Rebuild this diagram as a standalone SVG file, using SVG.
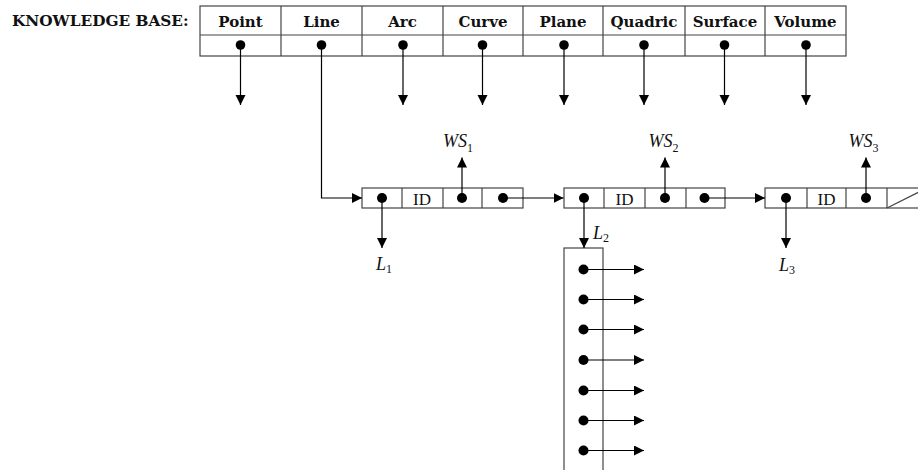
<svg xmlns="http://www.w3.org/2000/svg" width="918" height="470" viewBox="0 0 918 470">
<defs>
<marker id="ah" markerUnits="userSpaceOnUse" markerWidth="11" markerHeight="11" refX="10" refY="5" orient="auto">
<path d="M0,0 L10,5 L0,10 z" fill="#000"/>
</marker>
<style>
.cell{fill:#fff;stroke:#444;stroke-width:1.2}
.hdr{font-family:"DejaVu Serif","Liberation Serif",serif;font-weight:bold;font-size:15px;fill:#111;text-anchor:middle}
.kb{font-family:"DejaVu Serif","Liberation Serif",serif;font-weight:bold;font-size:15.3px;fill:#111}
.dot{fill:#000}
.conn{fill:none;stroke:#000;stroke-width:1.2;marker-end:url(#ah)}
.id{font-family:"Liberation Serif",serif;font-size:17px;fill:#111;text-anchor:middle}
.lab{font-family:"Liberation Serif",serif;font-style:italic;font-size:18px;fill:#111}
.sub{font-family:"Liberation Serif",serif;font-style:normal;font-size:12px;fill:#111}
</style>
</defs>
<rect width="918" height="470" fill="#fff"/>

<g id="knowledge-base">
<text class="kb" x="12" y="26">KNOWLEDGE BASE:</text>
<rect class="cell" x="200" y="6" width="646" height="50"/>
<line class="cell" x1="200" y1="35" x2="846" y2="35"/>
<line class="cell" x1="281" y1="6" x2="281" y2="56"/>
<line class="cell" x1="362" y1="6" x2="362" y2="56"/>
<line class="cell" x1="443" y1="6" x2="443" y2="56"/>
<line class="cell" x1="523" y1="6" x2="523" y2="56"/>
<line class="cell" x1="603" y1="6" x2="603" y2="56"/>
<line class="cell" x1="685" y1="6" x2="685" y2="56"/>
<line class="cell" x1="765" y1="6" x2="765" y2="56"/>
<text class="hdr" x="240.5" y="27">Point</text>
<text class="hdr" x="321.5" y="27">Line</text>
<text class="hdr" x="402.5" y="27">Arc</text>
<text class="hdr" x="483" y="27">Curve</text>
<text class="hdr" x="563" y="27">Plane</text>
<text class="hdr" x="644" y="27">Quadric</text>
<text class="hdr" x="725" y="27">Surface</text>
<text class="hdr" x="805.5" y="27">Volume</text>
<circle class="dot" cx="240.5" cy="45" r="4.8"/>
<circle class="dot" cx="321.5" cy="45" r="4.8"/>
<circle class="dot" cx="403" cy="45" r="4.8"/>
<circle class="dot" cx="482.5" cy="45" r="4.8"/>
<circle class="dot" cx="564" cy="45" r="4.8"/>
<circle class="dot" cx="644" cy="45" r="4.8"/>
<circle class="dot" cx="724.5" cy="45" r="4.8"/>
<circle class="dot" cx="806" cy="45" r="4.8"/>
</g>

<g id="node1">
<rect class="cell" x="362" y="188" width="161" height="20"/>
<line class="cell" x1="402" y1="188" x2="402" y2="208"/>
<line class="cell" x1="443" y1="188" x2="443" y2="208"/>
<line class="cell" x1="482" y1="188" x2="482" y2="208"/>
<text class="id" x="422" y="205">ID</text>
<circle class="dot" cx="382" cy="198" r="5"/>
<circle class="dot" cx="462" cy="198" r="5"/>
<circle class="dot" cx="503" cy="198" r="5"/>
</g>

<g id="node2">
<rect class="cell" x="564" y="188" width="161" height="20"/>
<line class="cell" x1="604" y1="188" x2="604" y2="208"/>
<line class="cell" x1="645" y1="188" x2="645" y2="208"/>
<line class="cell" x1="686" y1="188" x2="686" y2="208"/>
<text class="id" x="624.5" y="205">ID</text>
<circle class="dot" cx="584" cy="198" r="5"/>
<circle class="dot" cx="665" cy="198" r="5"/>
<circle class="dot" cx="704.5" cy="198" r="5"/>
</g>

<g id="node3">
<rect class="cell" x="765" y="188" width="162" height="20"/>
<line class="cell" x1="807" y1="188" x2="807" y2="208"/>
<line class="cell" x1="846" y1="188" x2="846" y2="208"/>
<line class="cell" x1="887" y1="188" x2="887" y2="208"/>
<line class="cell" x1="887" y1="208" x2="927" y2="188"/>
<text class="id" x="826.5" y="205">ID</text>
<circle class="dot" cx="786" cy="198" r="5"/>
<circle class="dot" cx="866" cy="198" r="5"/>
</g>

<g id="line-list">
<rect class="cell" x="564" y="248" width="39" height="240"/>
<circle class="dot" cx="583.5" cy="269.5" r="5"/>
<circle class="dot" cx="583.5" cy="299.5" r="5"/>
<circle class="dot" cx="583.5" cy="329.5" r="5"/>
<circle class="dot" cx="583.5" cy="360" r="5"/>
<circle class="dot" cx="583.5" cy="390.5" r="5"/>
<circle class="dot" cx="583.5" cy="420.5" r="5"/>
<circle class="dot" cx="583.5" cy="450.5" r="5"/>
</g>

<g id="labels">
<text class="lab" x="443" y="146.5">WS<tspan class="sub" dy="5">1</tspan></text>
<text class="lab" x="648.5" y="146.5">WS<tspan class="sub" dy="5">2</tspan></text>
<text class="lab" x="848.5" y="146.5">WS<tspan class="sub" dy="5">3</tspan></text>
<text class="lab" x="376" y="270">L<tspan class="sub" dy="3">1</tspan></text>
<text class="lab" x="593" y="239">L<tspan class="sub" dy="3">2</tspan></text>
<text class="lab" x="779" y="271">L<tspan class="sub" dy="3">3</tspan></text>
</g>

<g id="connectors">
<line class="conn" x1="240.5" y1="45" x2="240.5" y2="105"/>
<line class="conn" x1="403" y1="45" x2="403" y2="105"/>
<line class="conn" x1="482.5" y1="45" x2="482.5" y2="105"/>
<line class="conn" x1="564" y1="45" x2="564" y2="105"/>
<line class="conn" x1="644" y1="45" x2="644" y2="105"/>
<line class="conn" x1="724.5" y1="45" x2="724.5" y2="105"/>
<line class="conn" x1="806" y1="45" x2="806" y2="105"/>
<path class="conn" d="M321.5,45 V198 H362"/>
<line class="conn" x1="503" y1="198" x2="563.5" y2="198"/>
<line class="conn" x1="704.5" y1="198" x2="765" y2="198"/>
<line class="conn" x1="462" y1="198" x2="462" y2="157.5"/>
<line class="conn" x1="665" y1="198" x2="665" y2="157.5"/>
<line class="conn" x1="866" y1="198" x2="866" y2="157.5"/>
<line class="conn" x1="382" y1="198" x2="382" y2="248"/>
<line class="conn" x1="584" y1="198" x2="584" y2="248"/>
<line class="conn" x1="786" y1="198" x2="786" y2="248"/>
<line class="conn" x1="583.5" y1="269.5" x2="644" y2="269.5"/>
<line class="conn" x1="583.5" y1="299.5" x2="644" y2="299.5"/>
<line class="conn" x1="583.5" y1="329.5" x2="644" y2="329.5"/>
<line class="conn" x1="583.5" y1="360" x2="644" y2="360"/>
<line class="conn" x1="583.5" y1="390.5" x2="644" y2="390.5"/>
<line class="conn" x1="583.5" y1="420.5" x2="644" y2="420.5"/>
<line class="conn" x1="583.5" y1="450.5" x2="644" y2="450.5"/>
</g>
</svg>
